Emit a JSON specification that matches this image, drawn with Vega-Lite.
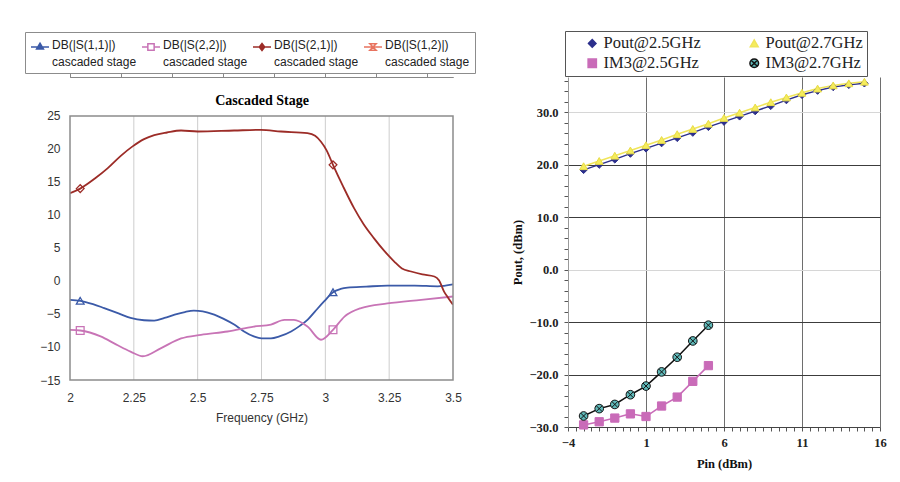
{
  "$schema": "https://vega.github.io/schema/vega-lite/v6.json",
  "padding": {"left": 24, "top": 30, "right": 5, "bottom": 5},
  "background": "white",
  "spacing": 35,
  "resolve": {
    "scale": {"color": "independent", "fill": "independent", "stroke": "independent", "shape": "independent", "size": "independent", "x": "independent", "y": "independent"},
    "legend": {"color": "independent", "fill": "independent", "stroke": "independent", "shape": "independent", "size": "independent"}
  },
  "datasets": {
    "sparams": [
      {"series": "DB(|S(1,1)|)", "f": 2.0, "v": -2.85}, {"series": "DB(|S(1,1)|)", "f": 2.04, "v": -3.0}, {"series": "DB(|S(1,1)|)", "f": 2.09, "v": -3.5}, {"series": "DB(|S(1,1)|)", "f": 2.134, "v": -4.1}, {"series": "DB(|S(1,1)|)", "f": 2.19, "v": -4.9}, {"series": "DB(|S(1,1)|)", "f": 2.237, "v": -5.6}, {"series": "DB(|S(1,1)|)", "f": 2.29, "v": -5.95}, {"series": "DB(|S(1,1)|)", "f": 2.33, "v": -6.0}, {"series": "DB(|S(1,1)|)", "f": 2.37, "v": -5.6}, {"series": "DB(|S(1,1)|)", "f": 2.41, "v": -5.1}, {"series": "DB(|S(1,1)|)", "f": 2.45, "v": -4.7}, {"series": "DB(|S(1,1)|)", "f": 2.485, "v": -4.5}, {"series": "DB(|S(1,1)|)", "f": 2.52, "v": -4.6}, {"series": "DB(|S(1,1)|)", "f": 2.565, "v": -5.1}, {"series": "DB(|S(1,1)|)", "f": 2.6, "v": -5.7}, {"series": "DB(|S(1,1)|)", "f": 2.643, "v": -6.6}, {"series": "DB(|S(1,1)|)", "f": 2.68, "v": -7.6}, {"series": "DB(|S(1,1)|)", "f": 2.72, "v": -8.4}, {"series": "DB(|S(1,1)|)", "f": 2.75, "v": -8.7}, {"series": "DB(|S(1,1)|)", "f": 2.787, "v": -8.7}, {"series": "DB(|S(1,1)|)", "f": 2.82, "v": -8.4}, {"series": "DB(|S(1,1)|)", "f": 2.866, "v": -7.65}, {"series": "DB(|S(1,1)|)", "f": 2.9, "v": -6.8}, {"series": "DB(|S(1,1)|)", "f": 2.93, "v": -5.9}, {"series": "DB(|S(1,1)|)", "f": 2.96, "v": -4.6}, {"series": "DB(|S(1,1)|)", "f": 2.995, "v": -3.1}, {"series": "DB(|S(1,1)|)", "f": 3.03, "v": -1.7}, {"series": "DB(|S(1,1)|)", "f": 3.06, "v": -1.2}, {"series": "DB(|S(1,1)|)", "f": 3.087, "v": -1.0}, {"series": "DB(|S(1,1)|)", "f": 3.16, "v": -0.85}, {"series": "DB(|S(1,1)|)", "f": 3.243, "v": -0.7}, {"series": "DB(|S(1,1)|)", "f": 3.35, "v": -0.7}, {"series": "DB(|S(1,1)|)", "f": 3.44, "v": -0.8}, {"series": "DB(|S(1,1)|)", "f": 3.5, "v": -0.5},
      {"series": "DB(|S(2,2)|)", "f": 2.0, "v": -7.4}, {"series": "DB(|S(2,2)|)", "f": 2.04, "v": -7.5}, {"series": "DB(|S(2,2)|)", "f": 2.12, "v": -8.4}, {"series": "DB(|S(2,2)|)", "f": 2.18, "v": -9.6}, {"series": "DB(|S(2,2)|)", "f": 2.237, "v": -10.7}, {"series": "DB(|S(2,2)|)", "f": 2.285, "v": -11.4}, {"series": "DB(|S(2,2)|)", "f": 2.355, "v": -10.2}, {"series": "DB(|S(2,2)|)", "f": 2.435, "v": -8.7}, {"series": "DB(|S(2,2)|)", "f": 2.513, "v": -8.15}, {"series": "DB(|S(2,2)|)", "f": 2.617, "v": -7.65}, {"series": "DB(|S(2,2)|)", "f": 2.72, "v": -6.9}, {"series": "DB(|S(2,2)|)", "f": 2.787, "v": -6.6}, {"series": "DB(|S(2,2)|)", "f": 2.84, "v": -5.9}, {"series": "DB(|S(2,2)|)", "f": 2.877, "v": -5.9}, {"series": "DB(|S(2,2)|)", "f": 2.93, "v": -6.9}, {"series": "DB(|S(2,2)|)", "f": 2.983, "v": -8.9}, {"series": "DB(|S(2,2)|)", "f": 3.03, "v": -7.4}, {"series": "DB(|S(2,2)|)", "f": 3.075, "v": -5.4}, {"series": "DB(|S(2,2)|)", "f": 3.14, "v": -4.1}, {"series": "DB(|S(2,2)|)", "f": 3.243, "v": -3.4}, {"series": "DB(|S(2,2)|)", "f": 3.375, "v": -2.85}, {"series": "DB(|S(2,2)|)", "f": 3.5, "v": -2.35},
      {"series": "DB(|S(2,1)|)", "f": 2.0, "v": 13.3}, {"series": "DB(|S(2,1)|)", "f": 2.04, "v": 14.0}, {"series": "DB(|S(2,1)|)", "f": 2.1, "v": 15.6}, {"series": "DB(|S(2,1)|)", "f": 2.148, "v": 17.1}, {"series": "DB(|S(2,1)|)", "f": 2.2, "v": 19.0}, {"series": "DB(|S(2,1)|)", "f": 2.245, "v": 20.4}, {"series": "DB(|S(2,1)|)", "f": 2.29, "v": 21.5}, {"series": "DB(|S(2,1)|)", "f": 2.33, "v": 22.1}, {"series": "DB(|S(2,1)|)", "f": 2.38, "v": 22.5}, {"series": "DB(|S(2,1)|)", "f": 2.435, "v": 22.8}, {"series": "DB(|S(2,1)|)", "f": 2.5, "v": 22.65}, {"series": "DB(|S(2,1)|)", "f": 2.643, "v": 22.8}, {"series": "DB(|S(2,1)|)", "f": 2.748, "v": 22.9}, {"series": "DB(|S(2,1)|)", "f": 2.826, "v": 22.65}, {"series": "DB(|S(2,1)|)", "f": 2.93, "v": 22.4}, {"series": "DB(|S(2,1)|)", "f": 2.96, "v": 22.0}, {"series": "DB(|S(2,1)|)", "f": 2.983, "v": 21.1}, {"series": "DB(|S(2,1)|)", "f": 3.005, "v": 19.8}, {"series": "DB(|S(2,1)|)", "f": 3.03, "v": 17.6}, {"series": "DB(|S(2,1)|)", "f": 3.07, "v": 14.3}, {"series": "DB(|S(2,1)|)", "f": 3.113, "v": 11.0}, {"series": "DB(|S(2,1)|)", "f": 3.15, "v": 8.6}, {"series": "DB(|S(2,1)|)", "f": 3.19, "v": 6.5}, {"series": "DB(|S(2,1)|)", "f": 3.23, "v": 4.6}, {"series": "DB(|S(2,1)|)", "f": 3.27, "v": 2.95}, {"series": "DB(|S(2,1)|)", "f": 3.3, "v": 1.9}, {"series": "DB(|S(2,1)|)", "f": 3.336, "v": 1.44}, {"series": "DB(|S(2,1)|)", "f": 3.38, "v": 1.0}, {"series": "DB(|S(2,1)|)", "f": 3.427, "v": 0.68}, {"series": "DB(|S(2,1)|)", "f": 3.445, "v": 0.1}, {"series": "DB(|S(2,1)|)", "f": 3.465, "v": -1.6}, {"series": "DB(|S(2,1)|)", "f": 3.48, "v": -2.5}, {"series": "DB(|S(2,1)|)", "f": 3.5, "v": -3.6}
    ],
    "smarkers": [
      {"series": "DB(|S(1,1)|)", "f": 2.04, "v": -3.0}, {"series": "DB(|S(1,1)|)", "f": 3.03, "v": -1.7},
      {"series": "DB(|S(2,2)|)", "f": 2.04, "v": -7.5}, {"series": "DB(|S(2,2)|)", "f": 3.03, "v": -7.4},
      {"series": "DB(|S(2,1)|)", "f": 2.04, "v": 14.0}, {"series": "DB(|S(2,1)|)", "f": 3.03, "v": 17.6}
    ],
    "fticks": [{"f": 2.25}, {"f": 2.5}, {"f": 2.75}, {"f": 3.0}, {"f": 3.25}],
    "power": [
      {"series": "Pout@2.5GHz", "pin": -3, "p": 19.0}, {"series": "Pout@2.5GHz", "pin": -2, "p": 20.0}, {"series": "Pout@2.5GHz", "pin": -1, "p": 21.0}, {"series": "Pout@2.5GHz", "pin": 0, "p": 22.1}, {"series": "Pout@2.5GHz", "pin": 1, "p": 23.1}, {"series": "Pout@2.5GHz", "pin": 2, "p": 24.1}, {"series": "Pout@2.5GHz", "pin": 3, "p": 25.1}, {"series": "Pout@2.5GHz", "pin": 4, "p": 26.1}, {"series": "Pout@2.5GHz", "pin": 5, "p": 27.2}, {"series": "Pout@2.5GHz", "pin": 6, "p": 28.2}, {"series": "Pout@2.5GHz", "pin": 7, "p": 29.2}, {"series": "Pout@2.5GHz", "pin": 8, "p": 30.2}, {"series": "Pout@2.5GHz", "pin": 9, "p": 31.2}, {"series": "Pout@2.5GHz", "pin": 10, "p": 32.3}, {"series": "Pout@2.5GHz", "pin": 11, "p": 33.3}, {"series": "Pout@2.5GHz", "pin": 12, "p": 34.1}, {"series": "Pout@2.5GHz", "pin": 13, "p": 34.8}, {"series": "Pout@2.5GHz", "pin": 14, "p": 35.2}, {"series": "Pout@2.5GHz", "pin": 15, "p": 35.5},
      {"series": "Pout@2.7GHz", "pin": -3, "p": 19.7}, {"series": "Pout@2.7GHz", "pin": -2, "p": 20.7}, {"series": "Pout@2.7GHz", "pin": -1, "p": 21.7}, {"series": "Pout@2.7GHz", "pin": 0, "p": 22.7}, {"series": "Pout@2.7GHz", "pin": 1, "p": 23.7}, {"series": "Pout@2.7GHz", "pin": 2, "p": 24.7}, {"series": "Pout@2.7GHz", "pin": 3, "p": 25.8}, {"series": "Pout@2.7GHz", "pin": 4, "p": 26.8}, {"series": "Pout@2.7GHz", "pin": 5, "p": 27.8}, {"series": "Pout@2.7GHz", "pin": 6, "p": 28.9}, {"series": "Pout@2.7GHz", "pin": 7, "p": 29.9}, {"series": "Pout@2.7GHz", "pin": 8, "p": 30.9}, {"series": "Pout@2.7GHz", "pin": 9, "p": 31.9}, {"series": "Pout@2.7GHz", "pin": 10, "p": 32.8}, {"series": "Pout@2.7GHz", "pin": 11, "p": 33.7}, {"series": "Pout@2.7GHz", "pin": 12, "p": 34.5}, {"series": "Pout@2.7GHz", "pin": 13, "p": 35.1}, {"series": "Pout@2.7GHz", "pin": 14, "p": 35.5}, {"series": "Pout@2.7GHz", "pin": 15, "p": 35.8},
      {"series": "IM3@2.5GHz", "pin": -3, "p": -29.6}, {"series": "IM3@2.5GHz", "pin": -2, "p": -29.0}, {"series": "IM3@2.5GHz", "pin": -1, "p": -28.3}, {"series": "IM3@2.5GHz", "pin": 0, "p": -27.5}, {"series": "IM3@2.5GHz", "pin": 1, "p": -28.0}, {"series": "IM3@2.5GHz", "pin": 2, "p": -26.0}, {"series": "IM3@2.5GHz", "pin": 3, "p": -24.3}, {"series": "IM3@2.5GHz", "pin": 4, "p": -21.3}, {"series": "IM3@2.5GHz", "pin": 5, "p": -18.3},
      {"series": "IM3@2.7GHz", "pin": -3, "p": -27.9}, {"series": "IM3@2.7GHz", "pin": -2, "p": -26.5}, {"series": "IM3@2.7GHz", "pin": -1, "p": -25.7}, {"series": "IM3@2.7GHz", "pin": 0, "p": -23.85}, {"series": "IM3@2.7GHz", "pin": 1, "p": -22.2}, {"series": "IM3@2.7GHz", "pin": 2, "p": -19.5}, {"series": "IM3@2.7GHz", "pin": 3, "p": -16.7}, {"series": "IM3@2.7GHz", "pin": 4, "p": -13.6}, {"series": "IM3@2.7GHz", "pin": 5, "p": -10.6}
    ]
  },
  "config": {
    "view": {"stroke": null}
  },
  "hconcat": [
    {
      "width": 383,
      "height": 303,
      "resolve": {"axis": {"x": "independent"}},
      "layer": [
        {
          "data": {"name": "fticks"},
          "mark": {"type": "rule", "color": "#cdcdcd", "strokeWidth": 1},
          "encoding": {
            "x": {"field": "f", "type": "quantitative", "scale": {"domain": [2, 3.5], "nice": false},
              "axis": {"values": [2, 2.25, 2.5, 2.75, 3, 3.25, 3.5], "tickCount": 200, "labelExpr": "format(datum.value, '~g')", "title": "Frequency (GHz)", "labelFont": "Liberation Sans", "labelFontSize": 12, "labelColor": "#333", "titleFont": "Liberation Sans", "titleFontSize": 12, "titleFontWeight": "normal", "titleColor": "#333", "domain": false, "ticks": false, "labelPadding": 12, "titlePadding": 9, "grid": false, "labelFlush": false, "labelOverlap": false}},
            "y": {"datum": -15, "type": "quantitative", "scale": {"domain": [-15, 30.909], "nice": false, "zero": false},
              "axis": {"values": [-15, -10, -5, 0, 5, 10, 15, 20, 25], "tickCount": 200, "format": "d", "title": null, "labelFont": "Liberation Sans", "labelFontSize": 12, "labelColor": "#333", "domain": false, "ticks": false, "labelPadding": 10, "gridColor": "#e3e3e3", "labelFlush": false, "labelOverlap": false}},
            "y2": {"datum": 25}
          }
        },
        {
          "data": {"name": "sparams"},
          "mark": {"type": "line", "strokeWidth": 1.8, "interpolate": "monotone", "clip": true},
          "encoding": {
            "x": {"field": "f", "type": "quantitative"},
            "y": {"field": "v", "type": "quantitative"},
            "color": {"field": "series", "type": "nominal",
              "scale": {"domain": ["DB(|S(1,1)|)", "DB(|S(2,2)|)", "DB(|S(2,1)|)", "DB(|S(1,2)|)"], "range": ["#3b5aa8", "#c874b6", "#9c2c27", "#e8735f"]},
              "legend": {"orient": "none", "legendX": -45, "legendY": -45, "direction": "horizontal", "columns": 4, "title": null,
                "strokeColor": "#8c8c8c", "fillColor": "white", "padding": 5, "columnPadding": 2,
                "labelFont": "Liberation Sans", "labelFontSize": 12, "labelColor": "#222", "labelOffset": 2,
                "symbolSize": 324, "symbolStrokeWidth": 1.5, "labelExpr": "[datum.label, 'cascaded stage']",
                "encode": {
                  "symbols": {"update": {
                    "shape": {"signal": "datum.value == 'DB(|S(1,1)|)' ? 'M-1,0H1M0,-0.42L0.38,0.22L-0.38,0.22Z' : datum.value == 'DB(|S(2,2)|)' ? 'M-1,0H-0.35M0.35,0H1M-0.35,-0.35H0.35V0.35H-0.35Z' : datum.value == 'DB(|S(2,1)|)' ? 'M-1,0H1M0,-0.38L0.3,0L0,0.38L-0.3,0Z' : 'M-1,0H1M-0.35,-0.35L0.35,-0.35L-0.35,0.35L0.35,0.35Z'"},
                    "fill": {"signal": "datum.value == 'DB(|S(1,1)|)' ? '#3b5aa8' : datum.value == 'DB(|S(2,1)|)' ? '#9c2c27' : 'white'"},
                    "fillOpacity": {"value": 1}
                  }},
                  "labels": {"update": {"lineHeight": {"value": 17}, "baseline": {"value": "top"}, "dy": {"value": -7}}}
                }}}
          }
        },
        {
          "data": {"values": [{}]},
          "mark": {"type": "rect", "filled": false, "stroke": "#8c8c8c", "strokeWidth": 1.5},
          "encoding": {
            "x": {"datum": 2, "type": "quantitative"},
            "x2": {"datum": 3.5},
            "y": {"datum": -15, "type": "quantitative"},
            "y2": {"datum": 25}
          }
        },
        {
          "data": {"name": "smarkers"},
          "mark": {"type": "point", "filled": false, "fill": "white", "fillOpacity": 0, "strokeWidth": 1.3, "size": 60},
          "encoding": {
            "x": {"field": "f", "type": "quantitative",
              "axis": {"orient": "top", "offset": -39, "title": "Cascaded Stage", "labels": false, "ticks": false, "domain": false, "grid": false, "titleFont": "Liberation Serif", "titleFontSize": 14, "titleFontWeight": "bold", "titleColor": "#000", "titlePadding": 9}},
            "y": {"field": "v", "type": "quantitative"},
            "stroke": {"field": "series", "type": "nominal", "scale": {"domain": ["DB(|S(1,1)|)", "DB(|S(2,2)|)", "DB(|S(2,1)|)"], "range": ["#3b5aa8", "#c874b6", "#9c2c27"]}, "legend": null},
            "shape": {"field": "series", "type": "nominal", "scale": {"domain": ["DB(|S(1,1)|)", "DB(|S(2,2)|)", "DB(|S(2,1)|)"], "range": ["triangle-up", "square", "diamond"]}, "legend": null}
          }
        }
      ]
    },
    {
      "width": 312,
      "height": 350,
      "layer": [
        {
          "data": {"name": "power"},
          "mark": {"type": "line", "strokeWidth": 1.5},
          "encoding": {
            "x": {"field": "pin", "type": "quantitative", "scale": {"domain": [-4, 16], "nice": false},
              "axis": {"values": [-4, -3.5, -3, -2.5, -2, -1.5, -1, -0.5, 0, 0.5, 1, 1.5, 2, 2.5, 3, 3.5, 4, 4.5, 5, 5.5, 6, 6.5, 7, 7.5, 8, 8.5, 9, 9.5, 10, 10.5, 11, 11.5, 12, 12.5, 13, 13.5, 14, 14.5, 15, 15.5, 16],
                "tickCount": 200, "labelOverlap": false,
                "labelExpr": "(datum.value + 4) % 5 == 0 ? format(datum.value, 'd') : ''",
                "title": "Pin (dBm)", "labelFont": "Liberation Serif", "labelFontSize": 12.5, "labelFontWeight": "bold", "labelColor": "#222",
                "titleFont": "Liberation Serif", "titleFontSize": 12.5, "titleFontWeight": "bold", "titleColor": "#111",
                "domainColor": "#444", "tickColor": "#555", "tickSize": 4, "labelPadding": 5, "titlePadding": 9, "labelFlush": false,
                "gridColor": {"condition": {"test": "(datum.value + 4) % 5 == 0 && datum.value > -4", "value": "#6e6e6e"}, "value": "rgba(0,0,0,0)"}}},
            "y": {"field": "p", "type": "quantitative", "scale": {"domain": [-30, 36.7], "nice": false},
              "axis": {"values": [-30, -28, -26, -24, -22, -20, -18, -16, -14, -12, -10, -8, -6, -4, -2, 0, 2, 4, 6, 8, 10, 12, 14, 16, 18, 20, 22, 24, 26, 28, 30, 32, 34, 36],
                "tickCount": 200, "labelOverlap": false,
                "labelExpr": "datum.value % 10 == 0 ? format(datum.value, '.1f') : ''",
                "title": "Pout, (dBm)", "labelFont": "Liberation Serif", "labelFontSize": 12.5, "labelFontWeight": "bold", "labelColor": "#222",
                "titleFont": "Liberation Serif", "titleFontSize": 12.5, "titleFontWeight": "bold", "titleColor": "#111",
                "domainColor": "#999", "tickColor": "#555", "tickSize": 4, "labelPadding": 6, "titlePadding": 5, "labelFlush": false,
                "gridColor": {"condition": [{"test": "datum.value == 0 || datum.value == 30", "value": "#d6d6d6"}, {"test": "datum.value % 10 == 0 && datum.value > -30", "value": "#3c3c3c"}], "value": "rgba(0,0,0,0)"}}},
            "color": {"field": "series", "type": "nominal",
              "scale": {"domain": ["Pout@2.5GHz", "Pout@2.7GHz", "IM3@2.5GHz", "IM3@2.7GHz"], "range": ["#2c2f8c", "#f0e55a", "#c96bb8", "#111111"]},
              "legend": {"orient": "none", "legendX": -3, "legendY": -46, "direction": "horizontal", "columns": 2, "title": null,
                "strokeColor": "#555", "fillColor": "white", "padding": 4, "columnPadding": 30, "rowPadding": 3, "symbolOffset": 15,
                "labelFont": "Liberation Serif", "labelFontSize": 16.5, "labelColor": "#222", "labelOffset": 3,
                "symbolSize": 900, "symbolStrokeWidth": 1.5,
                "encode": {
                  "symbols": {"update": {
                    "shape": {"signal": "datum.value == 'Pout@2.5GHz' ? 'M-1,0H1M0,-0.3L0.28,0L0,0.3L-0.28,0Z' : datum.value == 'Pout@2.7GHz' ? 'M-1,0H1M0,-0.3L0.28,0.2L-0.28,0.2Z' : datum.value == 'IM3@2.5GHz' ? 'M-1,0H1M-0.24,-0.24H0.24V0.24H-0.24Z' : 'M-1,0H1M-0.27,0A0.27,0.27,0,1,1,0.27,0A0.27,0.27,0,1,1,-0.27,0Z'"},
                    "fill": {"signal": "datum.value == 'Pout@2.5GHz' ? '#2c2f8c' : datum.value == 'Pout@2.7GHz' ? '#f5ec5c' : datum.value == 'IM3@2.5GHz' ? '#c96bb8' : '#5fb9b9'"},
                    "stroke": {"signal": "datum.value == 'Pout@2.5GHz' ? '#2c2f8c' : datum.value == 'Pout@2.7GHz' ? '#e8dc48' : datum.value == 'IM3@2.5GHz' ? '#c96bb8' : '#111111'"},
                    "strokeWidth": {"value": 1.5},
                    "fillOpacity": {"value": 1},
                    "opacity": {"value": 1}
                  }}
                }}}
          }
        },
        {
          "data": {"name": "power"},
          "mark": {"type": "point", "filled": true, "fillOpacity": 1, "strokeWidth": 1, "opacity": 1},
          "encoding": {
            "x": {"field": "pin", "type": "quantitative"},
            "y": {"field": "p", "type": "quantitative"},
            "fill": {"field": "series", "type": "nominal", "scale": {"domain": ["Pout@2.5GHz", "Pout@2.7GHz", "IM3@2.5GHz", "IM3@2.7GHz"], "range": ["#2c2f8c", "#f5ec5c", "#c96bb8", "#5fb9b9"]}, "legend": null},
            "stroke": {"field": "series", "type": "nominal", "scale": {"domain": ["Pout@2.5GHz", "Pout@2.7GHz", "IM3@2.5GHz", "IM3@2.7GHz"], "range": ["#2c2f8c", "#e8dc48", "#c96bb8", "#111111"]}, "legend": null},
            "shape": {"field": "series", "type": "nominal", "scale": {"domain": ["Pout@2.5GHz", "Pout@2.7GHz", "IM3@2.5GHz", "IM3@2.7GHz"], "range": ["diamond", "triangle-up", "square", "M-1,0A1,1,0,1,1,1,0A1,1,0,1,1,-1,0ZM-0.7,-0.7L0.7,0.7M-0.7,0.7L0.7,-0.7"]}, "legend": null},
            "size": {"field": "series", "type": "nominal", "scale": {"domain": ["Pout@2.5GHz", "Pout@2.7GHz", "IM3@2.5GHz", "IM3@2.7GHz"], "range": [55, 75, 55, 75]}, "legend": null}
          }
        }
      ]
    }
  ]
}
